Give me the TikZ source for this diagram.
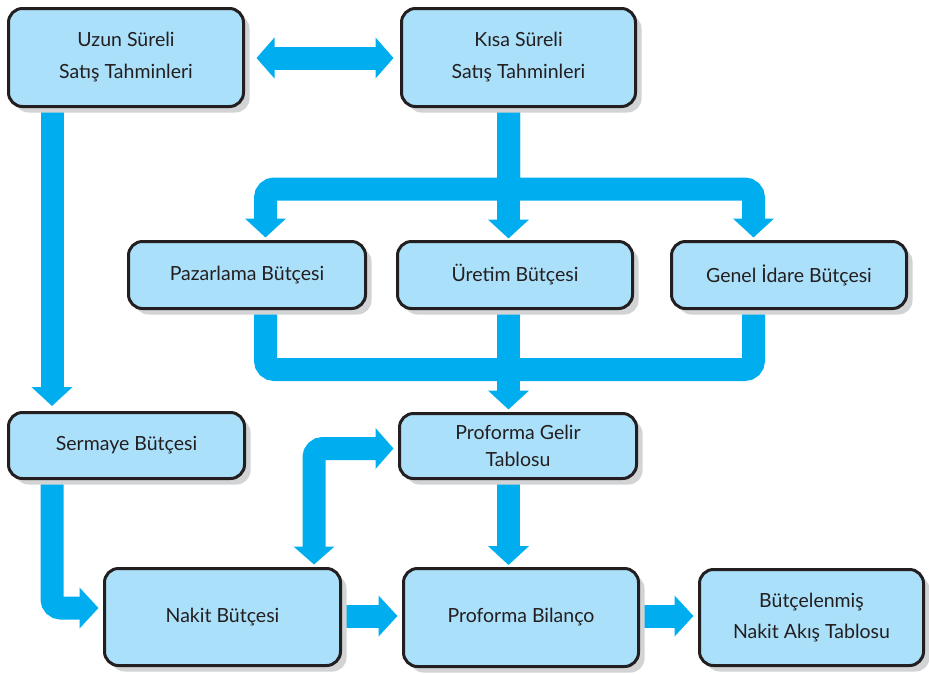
\documentclass[tikz,border=0pt]{standalone}
\usepackage{fontspec}
\setmainfont{Lato}
\usetikzlibrary{arrows.meta,shadows,calc}
\definecolor{boxfill}{RGB}{171,224,250}
\definecolor{flowc}{RGB}{0,174,239}
\definecolor{edge}{RGB}{35,31,32}
\definecolor{shadowc}{RGB}{209,211,212}
\pgfdeclarelayer{bg}
\pgfsetlayers{bg,main}
\tikzset{
  box/.style={draw=edge, line width=3pt, fill=boxfill, rounded corners=14pt,
    align=center, text=edge, inner sep=0pt,
    font=\fontsize{19.5}{32}\selectfont,
    general shadow={fill=shadowc, shadow xshift=6pt, shadow yshift=-6pt}},
  flow/.style={draw=flowc, line width=23pt, line cap=butt, line join=miter, rounded corners=9pt},
  arr/.style={flow, -{Triangle[width=40pt,length=19pt]}},
  darr/.style={flow, {Triangle[width=40pt,length=18pt]}-{Triangle[width=40pt,length=18pt]}}
}
\begin{document}
\begin{tikzpicture}[x=1pt,y=-1pt]
\useasboundingbox (0,0) rectangle (929,673);
% boxes (centre, width, height of border centre line)
\node[box, minimum width=235pt, minimum height=98pt] (uzun) at (126,57.5) {Uzun Süreli\\Satış Tahminleri};
\node[box, minimum width=234pt, minimum height=98pt] (kisa) at (518.5,57.5) {Kısa Süreli\\Satış Tahminleri};
\node[box, minimum width=237pt, minimum height=67pt] (paz) at (247,275) {Pazarlama Bütçesi};
\node[box, minimum width=235pt, minimum height=67pt] (uret) at (515,275) {Üretim Bütçesi};
\node[box, minimum width=235pt, minimum height=67pt] (genel) at (789,275) {Genel İdare Bütçesi};
\node[box, minimum width=236pt, minimum height=66pt] (serm) at (126.5,445.5) {Sermaye Bütçesi};
\node[box, minimum width=237pt, minimum height=65pt, font=\fontsize{19.5}{27}\selectfont] (gelir) at (518,446) {Proforma Gelir\\Tablosu};
\node[box, minimum width=236pt, minimum height=97pt] (nakit) at (222.5,617) {Nakit Bütçesi};
\node[box, minimum width=235pt, minimum height=98pt] (bilanco) at (521,617.5) {Proforma Bilanço};
\node[box, minimum width=224pt, minimum height=96pt, font=\fontsize{19.5}{31}\selectfont] (butce) at (811.5,617.5) {Bütçelenmiş\\Nakit Akış Tablosu};
% helper columns / rows
\coordinate (colS) at (52,0);
\coordinate (colL) at (265.5,0);
\coordinate (colC) at (508.5,0);
\coordinate (colR) at (753.5,0);
\coordinate (colN) at (314,0);
\coordinate (rowT) at (0,58);
\coordinate (rowA) at (0,189);
\coordinate (rowB) at (0,369.5);
\coordinate (rowN) at (0,608);
\coordinate (rowG) at (0,448.5);
\coordinate (rowM) at (0,616);
\begin{pgfonlayer}{bg}
\draw[darr, shorten <=11.5pt, shorten >=6.5pt] (uzun.east |- rowT) -- (kisa.west |- rowT);
\draw[arr, shorten >=5pt] (uzun.south -| colS) -- (serm.north -| colS);
\draw[arr, shorten >=2.5pt] (kisa.south -| colC) |- (rowA -| colL) -- (paz.north -| colL);
\draw[arr, shorten >=2.5pt] (kisa.south -| colC) |- (rowA -| colR) -- (genel.north -| colR);
\draw[arr, shorten >=1.5pt] (kisa.south -| colC) -- (uret.north -| colC);
\draw[flow] (paz.south -| colL) |- (rowB -| colC);
\draw[flow] (genel.south -| colR) |- (rowB -| colC);
\draw[arr, shorten >=2.5pt] (uret.south -| colC) -- (gelir.north -| colC);
\draw[arr, shorten >=4.5pt] (serm.south -| colS) |- (nakit.west |- rowN);
\draw[darr, shorten <=2.5pt, shorten >=4.5pt] (nakit.north -| colN) |- (gelir.west |- rowG);
\draw[arr, shorten >=4.5pt] (nakit.east |- rowM) -- (bilanco.west |- rowM);
\draw[arr, shorten >=2pt] (gelir.south -| colC) -- (bilanco.north -| colC);
\draw[arr, shorten >=4.5pt] (bilanco.east |- rowM) -- (butce.west |- rowM);
\end{pgfonlayer}
\end{tikzpicture}
\end{document}
